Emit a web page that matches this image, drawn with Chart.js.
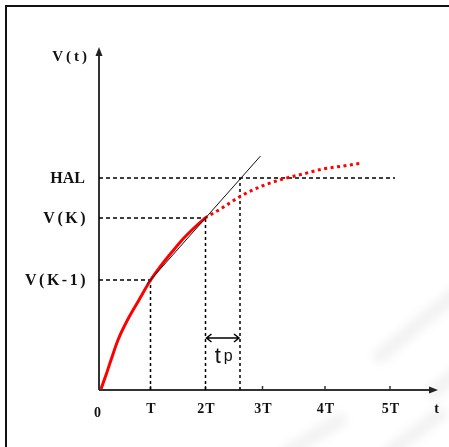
<!DOCTYPE html>
<html>
<head>
<meta charset="utf-8">
<script src="https://cdn.jsdelivr.net/npm/chart.js@4.4.0/dist/chart.umd.min.js"></script>
<style>
html, body { margin: 0; padding: 0; background: #fff; }
#wrap { width: 449px; height: 447px; }
</style>
</head>
<body>
<div id="wrap"><canvas id="grafico" width="449" height="447"></canvas></div>
<script>
// tacche asse t (unita' del grafico, non equidistanti come nell'originale)
const tickNames = ['0', 'T', '2T', '3T', '4T', '5T'];
const tickPos = [0, 1.03, 2.13, 3.27, 4.52, 5.82];

// livelli sull'asse V(t)
const levelNames = ['HAL', 'V(K)', 'V(K-1)'];
const levelValues = [4.24, 3.44, 2.2];
const halEnd = 5.92;

// tempo previsto di arrivo a HAL
const tpEnd = 2.82;
const tpArrowV = 1.04;

// curva misurata (tratto continuo)
const solidT = [0.04, 0.14, 0.24, 0.38, 0.57, 0.80, 1.02, 1.22, 1.46, 1.68, 1.90, 2.12];
const solidV = [0.02, 0.30, 0.60, 1.00, 1.40, 1.80, 2.18, 2.46, 2.76, 3.02, 3.24, 3.44];

// curva futura (punteggiata)
const dotT = [2.12, 2.46, 2.84, 3.26, 3.68, 4.08, 4.48, 4.88, 5.26];
const dotV = [3.44, 3.64, 3.88, 4.08, 4.22, 4.32, 4.42, 4.48, 4.54];

// retta per V(K-1) e V(K)
const tangT = [0.96, 3.23];
const tangV = [2.12, 4.68];

// fine degli assi
const axisEndT = 6.78;
const axisEndV = 6.86;

const FONT = '"Liberation Serif"';

function punti(xs, ys) {
    return xs.map((x, i) => ({ x: x, y: ys[i] }));
}

const HAL = levelValues[0], VK = levelValues[1], VK1 = levelValues[2];
const T1 = tickPos[1], T2 = tickPos[2];

function tratteggio(data, dash) {
    return {
        data: data,
        showLine: true,
        borderColor: '#000',
        borderWidth: 1.5,
        borderDash: dash,
        pointRadius: 0,
        fill: false
    };
}

const schemaPlugin = {
    id: 'schema',
    beforeDraw(chart) {
        const ctx = chart.ctx;
        ctx.save();
        ctx.fillStyle = '#fff';
        ctx.fillRect(0, 0, chart.width, chart.height);
        // strisce chiare di sfondo
        ctx.filter = 'blur(5px)';
        ctx.lineCap = 'round';
        ctx.strokeStyle = 'rgba(0,0,0,0.05)';
        ctx.lineWidth = 14;
        [[380, 356, 460, 290], [434, 392, 460, 370], [288, 452, 340, 420], [390, 452, 440, 414]].forEach(s => {
            ctx.beginPath();
            ctx.moveTo(s[0], s[1]);
            ctx.lineTo(s[2], s[3]);
            ctx.stroke();
        });
        ctx.filter = 'none';
        // cornice
        ctx.lineCap = 'butt';
        ctx.strokeStyle = '#111';
        ctx.lineWidth = 2;
        ctx.beginPath();
        ctx.moveTo(6, chart.height);
        ctx.lineTo(6, 6);
        ctx.lineTo(chart.width, 6);
        ctx.stroke();
        ctx.restore();
    },
    beforeDatasetsDraw(chart) {
        const ctx = chart.ctx;
        const sx = chart.scales.x, sy = chart.scales.y;
        const x0 = sx.getPixelForValue(0), y0 = sy.getPixelForValue(0);
        const xEnd = sx.getPixelForValue(axisEndT), yEnd = sy.getPixelForValue(axisEndV);
        ctx.save();
        ctx.strokeStyle = '#333';
        ctx.fillStyle = '#222';
        ctx.lineWidth = 2;
        ctx.beginPath();
        ctx.moveTo(x0, y0);
        ctx.lineTo(x0, yEnd + 4);
        ctx.moveTo(x0, y0);
        ctx.lineTo(xEnd - 4, y0);
        ctx.stroke();
        // frecce
        ctx.beginPath();
        ctx.moveTo(x0, yEnd);
        ctx.lineTo(x0 - 3.5, yEnd + 9);
        ctx.lineTo(x0 + 3.5, yEnd + 9);
        ctx.closePath();
        ctx.fill();
        ctx.beginPath();
        ctx.moveTo(xEnd, y0);
        ctx.lineTo(xEnd - 9, y0 - 3.5);
        ctx.lineTo(xEnd - 9, y0 + 3.5);
        ctx.closePath();
        ctx.fill();
        // tacche
        ctx.lineWidth = 1.5;
        tickPos.slice(1).forEach(t => {
            const px = sx.getPixelForValue(t);
            ctx.beginPath();
            ctx.moveTo(px, y0);
            ctx.lineTo(px, y0 - 4);
            ctx.stroke();
        });
        ctx.restore();
    },
    afterDatasetsDraw(chart) {
        const ctx = chart.ctx;
        const sx = chart.scales.x, sy = chart.scales.y;
        const x0 = sx.getPixelForValue(0), y0 = sy.getPixelForValue(0);
        ctx.save();
        ctx.fillStyle = '#111';
        // etichette asse t
        ctx.font = 'bold 14px ' + FONT;
        ctx.letterSpacing = '1px';
        ctx.textAlign = 'center';
        ctx.textBaseline = 'top';
        tickNames.forEach((nome, i) => {
            const px = sx.getPixelForValue(tickPos[i]);
            if (i === 0) {
                ctx.fillText(nome, px - 1, y0 + 16);
            } else {
                ctx.fillText(nome, px + 1, y0 + 12);
            }
        });
        ctx.fillText('t', sx.getPixelForValue(axisEndT) - 1, y0 + 12);
        // etichette asse V
        ctx.font = 'bold 16px ' + FONT;
        ctx.textAlign = 'right';
        ctx.textBaseline = 'middle';
        levelNames.forEach((nome, i) => {
            ctx.letterSpacing = i === 0 ? '0px' : '2.5px';
            ctx.fillText(nome, x0 - 14 + (i === 0 ? 0 : 3), sy.getPixelForValue(levelValues[i]) + 1);
        });
        ctx.letterSpacing = '3px';
        ctx.font = 'bold 15px ' + FONT;
        ctx.fillText('V(t)', x0 - 9, sy.getPixelForValue(axisEndV) + 10);
        ctx.letterSpacing = '0px';
        // freccia tp
        const xa = sx.getPixelForValue(T2), xb = sx.getPixelForValue(tpEnd);
        const ya = sy.getPixelForValue(tpArrowV);
        ctx.strokeStyle = '#000';
        ctx.lineWidth = 1.5;
        ctx.beginPath();
        ctx.moveTo(xa + 1, ya);
        ctx.lineTo(xb - 1, ya);
        ctx.moveTo(xa + 6, ya - 4);
        ctx.lineTo(xa + 1, ya);
        ctx.lineTo(xa + 6, ya + 4);
        ctx.moveTo(xb - 6, ya - 4);
        ctx.lineTo(xb - 1, ya);
        ctx.lineTo(xb - 6, ya + 4);
        ctx.stroke();
        const xm = (xa + xb) / 2;
        ctx.textAlign = 'left';
        ctx.textBaseline = 'alphabetic';
        ctx.font = '22px "Liberation Sans"';
        ctx.fillText('t', xm - 8, ya + 25);
        ctx.font = '16px "Liberation Sans"';
        ctx.fillText('p', xm + 1, ya + 23);
        ctx.restore();
    }
};

new Chart(document.getElementById('grafico'), {
    type: 'scatter',
    data: {
        datasets: [
            {
                data: punti(tangT, tangV),
                showLine: true,
                borderColor: '#111',
                borderWidth: 1,
                pointRadius: 0
            },
            {
                data: punti(solidT, solidV),
                showLine: true,
                borderColor: '#ff0000',
                borderWidth: 3,
                pointRadius: 0,
                cubicInterpolationMode: 'monotone'
            },
            {
                data: punti(dotT, dotV),
                showLine: true,
                borderColor: '#ff0000',
                borderWidth: 3,
                borderDash: [3, 3.5],
                borderCapStyle: 'butt',
                pointRadius: 0,
                cubicInterpolationMode: 'monotone'
            },
            tratteggio([{ x: 0, y: HAL }, { x: halEnd, y: HAL }], [4, 3]),
            tratteggio([{ x: 0, y: VK }, { x: T2, y: VK }], [4, 3]),
            tratteggio([{ x: 0, y: VK1 }, { x: T1, y: VK1 }], [4, 3]),
            tratteggio([{ x: T1, y: 0 }, { x: T1, y: VK1 }], [3, 3]),
            tratteggio([{ x: T2, y: 0 }, { x: T2, y: VK }], [3, 3]),
            tratteggio([{ x: tpEnd, y: 0 }, { x: tpEnd, y: HAL }], [3, 3])
        ]
    },
    options: {
        responsive: false,
        animation: false,
        layout: {
            padding: { left: 99, right: 10, top: 40, bottom: 57 }
        },
        scales: {
            x: { type: 'linear', min: 0, max: 6.8, display: false },
            y: { type: 'linear', min: 0, max: 7, display: false }
        },
        plugins: {
            legend: { display: false },
            tooltip: { enabled: false }
        }
    },
    plugins: [schemaPlugin]
});
</script>
</body>
</html>
